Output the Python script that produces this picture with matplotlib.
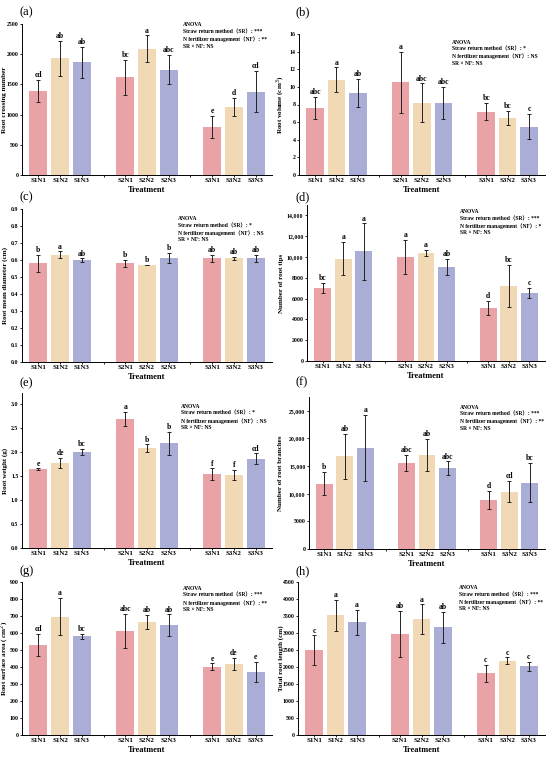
import numpy as np
import matplotlib
matplotlib.use("Agg")
import matplotlib.pyplot as plt
from matplotlib.ticker import FuncFormatter

plt.rcParams['font.family'] = ['Liberation Serif', 'Noto Sans CJK SC', 'DejaVu Sans']

treatments = ['S1N1', 'S1N2', 'S1N3', 'S2N1', 'S2N2', 'S2N3', 'S3N1', 'S3N2', 'S3N3']
colors = ['#E9A3A6', '#F2D9B5', '#AAAED6']

# panel data: means, errors, letters
crossing = [1395, 1930, 1865, 1615, 2090, 1745, 795, 1125, 1380]
crossing_err = [180, 290, 255, 285, 220, 245, 180, 155, 345]
crossing_let = ['cd', 'ab', 'ab', 'bc', 'a', 'abc', 'e', 'd', 'cd']

volume = [7.6, 10.8, 9.3, 10.5, 8.2, 8.2, 7.2, 6.5, 5.5]
volume_err = [1.3, 1.4, 1.6, 3.5, 2.2, 1.8, 1.0, 0.8, 1.4]
volume_let = ['abc', 'a', 'ab', 'a', 'abc', 'abc', 'bc', 'bc', 'c']

diameter = [0.58, 0.63, 0.60, 0.58, 0.57, 0.61, 0.61, 0.61, 0.61]
diameter_err = [0.05, 0.02, 0.01, 0.02, 0.0, 0.03, 0.02, 0.01, 0.02]
diameter_let = ['b', 'a', 'ab', 'b', 'b', 'b', 'ab', 'ab', 'ab']

tips = [7020, 9850, 10530, 9980, 10400, 9045, 5120, 7240, 6530]
tips_err = [480, 1620, 2700, 1650, 290, 750, 690, 2000, 470]
tips_let = ['bc', 'a', 'a', 'a', 'a', 'ab', 'd', 'bc', 'c']

weight = [1.64, 1.77, 2.00, 2.69, 2.08, 2.18, 1.54, 1.52, 1.86]
weight_err = [0.02, 0.10, 0.07, 0.14, 0.08, 0.24, 0.12, 0.10, 0.11]
weight_let = ['e', 'de', 'bc', 'a', 'b', 'b', 'f', 'f', 'cd']

branches = [11840, 16790, 18300, 15520, 17030, 14670, 8880, 10390, 12020]
branches_err = [2150, 4050, 6000, 1450, 2870, 1200, 1650, 1900, 3500]
branches_let = ['b', 'ab', 'a', 'abc', 'ab', 'abc', 'd', 'cd', 'bc']

surface = [530, 697, 580, 612, 666, 647, 401, 420, 372]
surface_err = [66, 110, 13, 100, 40, 62, 20, 35, 60]
surface_let = ['cd', 'a', 'bc', 'abc', 'ab', 'ab', 'e', 'de', 'e']

length = [2500, 3520, 3315, 2970, 3410, 3165, 1815, 2180, 2020]
length_err = [430, 450, 370, 690, 430, 460, 255, 100, 125]
length_let = ['c', 'a', 'a', 'ab', 'a', 'ab', 'c', 'c', 'c']

sr_sig = ['***', '*', '*', '***', '*', '***', '***', '***']
nf_sig = ['**', 'NS', 'NS', '*', 'NS', '**', '**', '**']

W, H = 550, 758
fig = plt.figure(figsize=(W / 100, H / 100), dpi=100)

def comma_fmt(v, pos):
    v = int(round(v))
    return f'{v:,}' if v >= 10000 else f'{v}'

panels = [
    # label, axes box in px (x0, x1, ytop, ybot), label y px, anova (x, y) in axes fraction
    ('(a)', (22, 272, 24, 175), 12, (0.644, 1.01), crossing, crossing_err, crossing_let,
     'Root crossing number', (0, 2500), np.arange(0, 2501, 500), '{:.0f}'),
    ('(b)', (299, 545, 34, 175), 12, (0.62, 0.96), volume, volume_err, volume_let,
     'Root volume (cm$^{3}$)', (0, 16), np.arange(0, 17, 2), '{:.0f}'),
    ('(c)', (22, 272, 209, 362), 197, (0.624, 0.955), diameter, diameter_err, diameter_let,
     'Root mean diameter (cm)', (0, 0.9), np.arange(0, 0.91, 0.1), '{:.1f}'),
    ('(d)', (307, 545, 205, 361), 197, (0.643, 0.975), tips, tips_err, tips_let,
     'Number of root tips', (0, 15000), np.arange(0, 14001, 2000), 'comma'),
    ('(e)', (22, 272, 393, 548), 383, (0.636, 0.93), weight, weight_err, weight_let,
     'Root weight (g)', (0, 3.23), np.arange(0, 3.01, 0.5), '{:.1f}'),
    ('(f)', (309, 545, 397, 549), 382, (0.64, 0.95), branches, branches_err, branches_let,
     'Number of root branches', (0, 27500), np.arange(0, 25001, 5000), 'comma'),
    ('(g)', (22, 272, 582, 735), 571, (0.644, 0.975), surface, surface_err, surface_let,
     'Root surface area ( cm$^{2}$)', (0, 900), np.arange(0, 901, 100), '{:.0f}'),
    ('(h)', (298, 545, 582, 735), 571, (0.652, 0.98), length, length_err, length_let,
     'Total root length (cm)', (0, 4500), np.arange(0, 4501, 500), '{:.0f}'),
]

x = np.array([0, 1, 2, 4, 5, 6, 8, 9, 10])
bar_colors = colors * 3

for i, (lab, (x0, x1, yt, yb), ly, (ax_x, ax_y), vals, errs, lets,
        ylab, ylim, ticks, fmt) in enumerate(panels):
    ax = fig.add_axes([x0 / W, 1 - yb / H, (x1 - x0) / W, (yb - yt) / H])
    ax.bar(x, vals, width=0.82, color=bar_colors, zorder=2)
    ax.errorbar(x, vals, yerr=errs, fmt='none', ecolor='#222222',
                elinewidth=0.7, capsize=1.5, capthick=0.7, zorder=3)
    span = ylim[1] - ylim[0]
    for xi, v, e, l in zip(x, vals, errs, lets):
        ax.text(xi, v + e + span * 0.005, l, ha='center', va='bottom',
                fontsize=5.5, fontweight='bold')
    ax.set_xlim(-0.75, 10.75)
    ax.set_ylim(*ylim)
    ax.set_xticks(list(x) + [3, 7])
    ax.set_xticklabels(treatments + ['', ''])
    ax.set_yticks(ticks)
    if fmt == 'comma':
        ax.yaxis.set_major_formatter(FuncFormatter(comma_fmt))
    else:
        ax.set_yticklabels([fmt.format(t) for t in ticks])
    for t in ax.get_xticklabels() + ax.get_yticklabels():
        t.set_fontweight('bold')
    ax.tick_params(axis='both', labelsize=4.2, length=1.5, width=0.6, pad=1)
    ax.tick_params(axis='x', labelsize=5)
    ax.spines['top'].set_visible(False)
    ax.spines['right'].set_visible(False)
    ax.spines['left'].set_linewidth(0.7)
    ax.spines['bottom'].set_linewidth(0.7)
    ax.set_ylabel(ylab, fontsize=5.0, fontweight='bold', va='center')
    lab_x = 5 if x0 < 275 else 281
    ax.yaxis.set_label_coords(lab_x / W, 1 - (yt + yb) / 2 / H, transform=fig.transFigure)
    ax.set_xlabel('Treatment', fontsize=6, fontweight='bold', labelpad=2)
    # panel label
    lx = 20 if x0 < 275 else 296
    fig.text(lx / W, 1 - ly / H, lab, fontsize=9, ha='left', va='center')
    # ANOVA box
    anova = ('ANOVA\n'
             f'Straw return method（SR）: {sr_sig[i]}\n'
             f'N fertilizer management（NF）: {nf_sig[i]}\n'
             'SR × NF: NS')
    ax.text(ax_x, ax_y, anova, transform=ax.transAxes,
            fontsize=4.0, fontweight='bold', va='top', ha='left', linespacing=1.4)

fig.savefig('out.png', dpi=100, facecolor='white')
